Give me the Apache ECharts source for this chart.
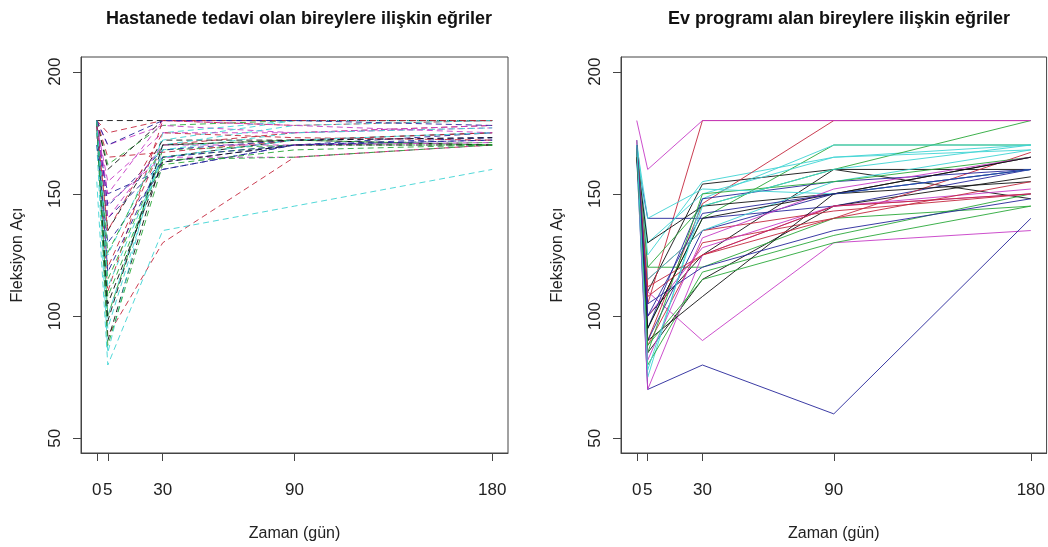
<!DOCTYPE html>
<html>
<head>
<meta charset="utf-8">
<script src="https://cdn.jsdelivr.net/npm/echarts@6/dist/echarts.min.js"></script>
<style>
html,body{margin:0;padding:0;background:#fff;}
#chart{width:1048px;height:547px;}
</style>
</head>
<body>
<div id="chart"></div>
<script>
// Time points (days)
const days = [0, 5, 30, 90, 180];
const xTicks = [0, 5, 30, 90, 180];
const yTicks = [50, 100, 150, 200];

const leftTitle = "Hastanede tedavi olan bireylere ilişkin eğriler";
const rightTitle = "Ev programı alan bireylere ilişkin eğriler";
const xName = "Zaman (gün)";
const yName = "Fleksiyon Açı";

// Hospital group: flexion angle at each day
const hospitalCurves = [
  [180, 180, 180, 180, 180],
  [180, 92, 130, 165, 170],
  [180, 162, 178, 180, 180],
  [175, 150, 160, 170, 173],
  [155, 80, 135, 145, 160],
  [180, 170, 178, 175, 177],
  [180, 90, 165, 172, 175],
  [180, 120, 170, 175, 178],
  [178, 100, 168, 170, 171],
  [180, 140, 163, 170, 175],
  [170, 85, 175, 180, 180],
  [180, 146, 165, 165, 170],
  [180, 135, 172, 172, 170],
  [175, 110, 180, 178, 180],
  [180, 115, 165, 170, 170],
  [170, 130, 160, 170, 172],
  [180, 125, 172, 180, 180],
  [178, 155, 175, 175, 178],
  [180, 160, 180, 180, 180],
  [180, 165, 167, 172, 175],
  [175, 126, 170, 172, 170],
  [180, 145, 168, 172, 173],
  [180, 100, 170, 178, 180],
  [180, 140, 170, 170, 171],
  [180, 105, 163, 170, 170],
  [180, 175, 180, 180, 180],
  [180, 108, 164, 165, 170],
  [178, 118, 165, 170, 172],
  [175, 95, 168, 175, 177],
  [180, 150, 180, 178, 175],
  [180, 98, 170, 172, 173],
  [178, 135, 175, 173, 172],
  [180, 88, 162, 168, 170],
  [180, 170, 180, 180, 178],
  [180, 112, 165, 172, 175]
];

// Home program group: flexion angle at each day
const homeCurves = [
  [170, 110, 154, 160, 148],
  [172, 105, 180, 180, 180],
  [170, 95, 140, 170, 170],
  [165, 140, 140, 145, 160],
  [170, 125, 155, 165, 170],
  [170, 110, 90, 130, 135],
  [168, 100, 125, 160, 160],
  [170, 90, 146, 180, 180],
  [165, 120, 145, 160, 180],
  [165, 70, 80, 60, 140],
  [172, 130, 150, 165, 168],
  [180, 160, 180, 180, 180],
  [170, 85, 115, 145, 157],
  [168, 88, 130, 140, 167],
  [170, 120, 120, 140, 145],
  [168, 90, 135, 150, 160],
  [165, 75, 148, 170, 170],
  [170, 100, 128, 145, 152],
  [165, 130, 145, 150, 165],
  [170, 115, 135, 143, 150],
  [170, 80, 118, 133, 150],
  [170, 95, 148, 155, 160],
  [168, 115, 135, 155, 168],
  [172, 70, 125, 145, 150],
  [170, 90, 108, 150, 155],
  [165, 112, 125, 140, 155],
  [168, 85, 150, 155, 165],
  [170, 105, 120, 135, 148],
  [170, 140, 152, 150, 160],
  [168, 82, 132, 152, 165],
  [165, 95, 140, 150, 165],
  [170, 108, 125, 145, 150],
  [168, 88, 115, 130, 145],
  [170, 100, 142, 150, 160],
  [170, 78, 145, 160, 170]
];

const palette = ['#111111', '#c4283e', '#2aa83a', '#26269a', '#3ed4d4', '#c63cc6'];
const FONT = "'Liberation Sans', Arial, sans-serif";

function makeSeries(curves, idx, dashed) {
  return curves.map((vals, i) => ({
    type: 'line',
    xAxisIndex: idx,
    yAxisIndex: idx,
    symbol: 'none',
    silent: true,
    animation: false,
    lineStyle: {
      width: 1,
      color: palette[i % palette.length],
      type: dashed ? [6, 4] : 'solid',
      opacity: 0.9
    },
    data: days.map((d, j) => [d, vals[j]])
  }));
}

// y-axis tick marks (outside the left edge of each panel), placed by the y scale
function yTickSeries(idx) {
  return {
    type: 'custom',
    xAxisIndex: idx,
    yAxisIndex: idx,
    silent: true,
    animation: false,
    clip: false,
    data: yTicks.map(v => [0, v]),
    renderItem: function (params, api) {
      const y = Math.round(api.coord([0, api.value(1)])[1]) + 0.5;
      const x = params.coordSys.x;
      return {
        type: 'line',
        shape: { x1: x - 8, y1: y, x2: x, y2: y },
        style: { stroke: '#444', lineWidth: 1 }
      };
    }
  };
}

function xAxis(idx) {
  return {
    type: 'value', gridIndex: idx, min: -7.2, max: 187.2,
    name: xName, nameLocation: 'middle', nameGap: 73,
    nameTextStyle: { fontFamily: FONT, fontSize: 16, color: '#222' },
    axisLine: { show: true, onZero: false, lineStyle: { color: '#444', width: 1 } },
    splitLine: { show: false },
    axisTick: { show: true, customValues: xTicks, length: 8, lineStyle: { color: '#444' } },
    axisLabel: { customValues: xTicks, margin: 29, fontFamily: FONT, fontSize: 17, color: '#222' }
  };
}
function yAxis(idx) {
  return {
    type: 'value', gridIndex: idx, min: 44, max: 206, position: 'left',
    name: yName, nameLocation: 'middle', nameGap: 55, nameRotate: 90,
    nameTextStyle: { fontFamily: FONT, fontSize: 16, color: '#222' },
    axisLine: { show: true, onZero: false, lineStyle: { color: '#444', width: 1 } },
    splitLine: { show: false },
    axisTick: { show: false },
    axisLabel: { customValues: yTicks, rotate: 90, margin: 17, fontFamily: FONT, fontSize: 17, color: '#222' }
  };
}

const chart = echarts.init(document.getElementById('chart'));
chart.setOption({
  animation: false,
  backgroundColor: '#ffffff',
  title: [
    { text: leftTitle, left: 294, top: 5, textAlign: 'center',
      textStyle: { fontFamily: FONT, fontWeight: 'bold', fontSize: 18, color: '#111' } },
    { text: rightTitle, left: 834, top: 5, textAlign: 'center',
      textStyle: { fontFamily: FONT, fontWeight: 'bold', fontSize: 18, color: '#111' } }
  ],
  grid: [
    { left: 81, top: 57, width: 427, height: 401, show: true, borderColor: '#444', borderWidth: 1, backgroundColor: 'transparent' },
    { left: 621, top: 57, width: 426, height: 401, show: true, borderColor: '#444', borderWidth: 1, backgroundColor: 'transparent' }
  ],
  xAxis: [xAxis(0), xAxis(1)],
  yAxis: [yAxis(0), yAxis(1)],
  series: makeSeries(hospitalCurves, 0, true)
    .concat(makeSeries(homeCurves, 1, false))
    .concat([yTickSeries(0), yTickSeries(1)])
});
</script>
</body>
</html>
